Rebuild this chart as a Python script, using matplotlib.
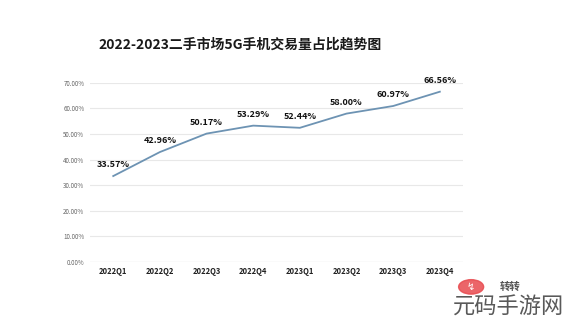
import matplotlib.pyplot as plt
from matplotlib.patches import Circle

plt.rcParams['font.family'] = ['Noto Sans CJK SC', 'DejaVu Sans']

quarters = ["2022Q1", "2022Q2", "2022Q3", "2022Q4",
            "2023Q1", "2023Q2", "2023Q3", "2023Q4"]
share = [33.57, 42.96, 50.17, 53.29, 52.44, 58.00, 60.97, 66.56]
y_ticks = [0, 10, 20, 30, 40, 50, 60, 70]

fig = plt.figure(figsize=(5.69, 3.29), dpi=100)
ax = fig.add_axes([0.158, 0.204, 0.656, 0.544])

x = list(range(len(quarters)))
ax.plot(x, share, color="#6d93b3", linewidth=1.3)

for xi, v in zip(x, share):
    ax.annotate(f"{v:.2f}%", (xi, v), xytext=(0, 5), textcoords="offset points",
                ha="center", va="bottom", fontsize=6.5, fontweight="bold",
                color="#111111")

ax.set_xlim(-0.5, len(quarters) - 0.5)
ax.set_ylim(0, 70)
ax.set_yticks(y_ticks)
ax.set_yticklabels([f"{t:.2f}%" for t in y_ticks], fontsize=4.5, color="#666666")
ax.set_xticks(x)
ax.set_xticklabels(quarters, fontsize=5.5, fontweight="bold", color="#222222")
ax.tick_params(length=0, pad=4)
ax.grid(axis="y", color="#e8e8e8", linewidth=0.8)
for s in ax.spines.values():
    s.set_visible(False)
ax.axhline(0, color="#d8d8d8", linewidth=0.8)

fig.text(0.422, 0.865, "2022-2023二手市场5G手机交易量占比趋势图",
         ha="center", va="center", fontsize=10, fontweight="bold", color="#1a1a1a")

# logo and site mark in the lower right corner
logo = Circle((0.828, 0.128), 0.022, transform=fig.transFigure,
              color="#e84a4f", alpha=0.85)
fig.patches.append(logo)
fig.text(0.828, 0.128, "↯", ha="center", va="center", fontsize=7,
         color="white", family="DejaVu Sans")
fig.text(0.897, 0.128, "转转", ha="center", va="center", fontsize=7.5,
         fontweight="bold", color="#555555")
fig.text(0.893, 0.065, "元码手游网", ha="center", va="center", fontsize=16,
         color="#222222", alpha=0.75)

fig.savefig("out.png", dpi=100, facecolor="white")
